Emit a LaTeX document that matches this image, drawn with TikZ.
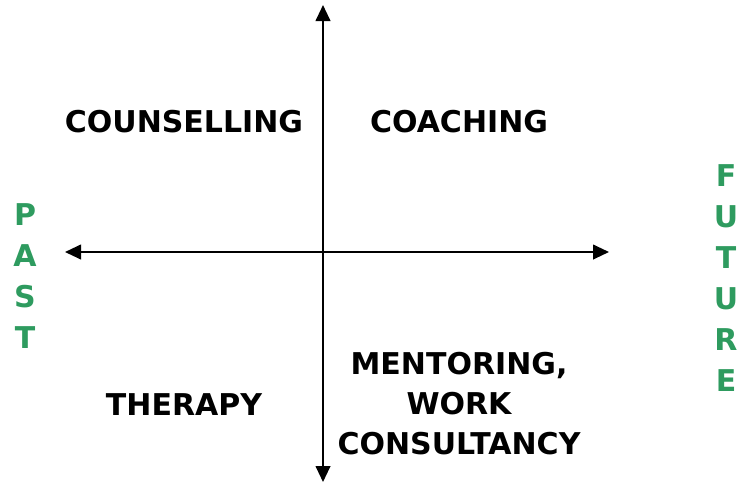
\documentclass[tikz,border=0pt]{standalone}
\usepackage{fontspec}
\setmainfont{DejaVu Sans}
\usetikzlibrary{arrows.meta}
\definecolor{timegreen}{RGB}{46,155,95}
\tikzset{
  quad/.style={font=\fontsize{22.5pt}{30pt}\selectfont\bfseries, align=center, inner sep=0pt},
  timeword/.style={quad, text=timegreen, font=\fontsize{22.5pt}{30.8pt}\selectfont\bfseries},
  axis/.style={line width=1.5pt, {Triangle[length=12pt,width=11pt]}-{Triangle[length=12pt,width=11pt]}}
}
\begin{document}
\begin{tikzpicture}[x=0.75pt,y=-0.75pt]
\useasboundingbox (0,0) rectangle (741,483);
% axes
\coordinate (top) at (323,5);
\coordinate (bottom) at (323,482);
\coordinate (left) at (65,252);
\coordinate (right) at (609,252);
\draw[axis] (top) -- (bottom);
\draw[axis] (left) -- (right);
% quadrants
\node[quad] (counselling) at (184,122) {COUNSELLING};
\node[quad] (coaching) at (459,122) {COACHING};
\node[quad] (therapy) at (184,405) {THERAPY};
\node[quad] (mentoring) at (459,404) {MENTORING,\\WORK\\CONSULTANCY};
% time
\node[timeword] (past) at (25,276) {P\\A\\S\\T};
\node[timeword] (future) at (726,278) {F\\U\\T\\U\\R\\E};
\end{tikzpicture}
\end{document}
